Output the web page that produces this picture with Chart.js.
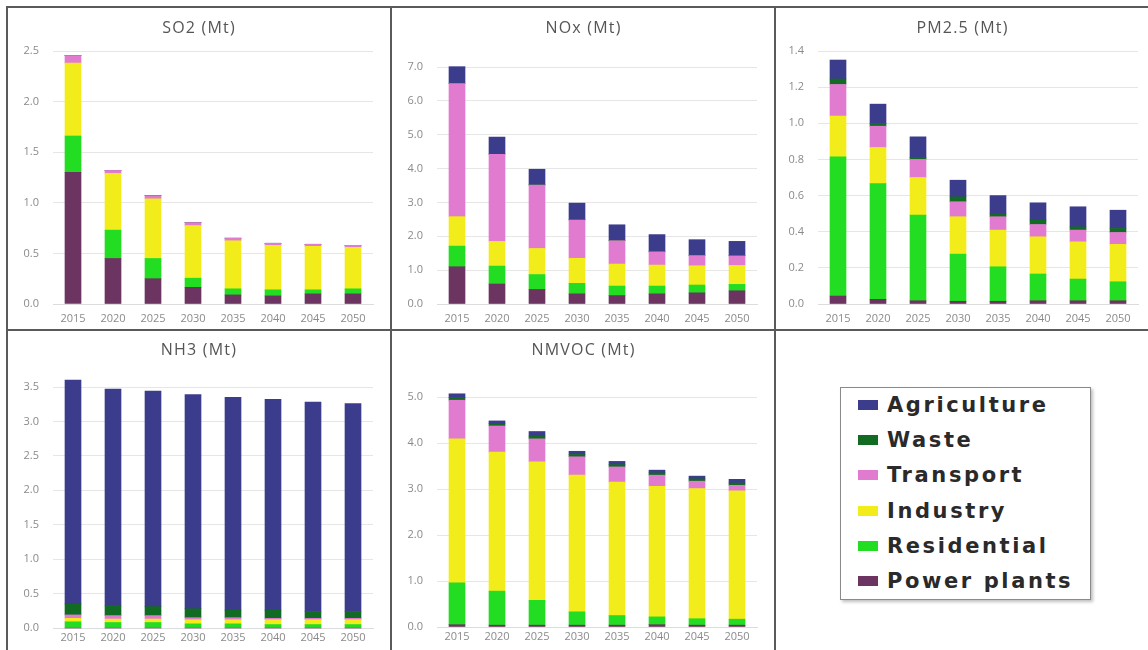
<!DOCTYPE html>
<html>
<head>
<meta charset="utf-8">
<script src="https://cdn.jsdelivr.net/npm/chart.js@4.4.1/dist/chart.umd.min.js"></script>
<style>
  html, body { margin: 0; padding: 0; background: #fff; }
  body { width: 1148px; height: 650px; position: relative; overflow: hidden; font-family: "Open Sans", sans-serif; }
  canvas { position: absolute; }
  .line { position: absolute; background: #5a5a5a; }
  .title { position: absolute; color: #555; font-size: 16px; letter-spacing: 1.2px; text-align: center; }
  #legend { position: absolute; left: 840px; top: 387px; width: 249px; height: 211px; border: 1px solid #8a8a8a;
            box-shadow: 2px 2px 3px rgba(0,0,0,0.25); background: #fff; }
  .item { position: absolute; left: 17px; height: 30px; display: flex; align-items: center; }
  .sw { width: 20px; height: 10px; margin-right: 9px; }
  .lab { font-family: "DejaVu Sans", sans-serif; font-weight: bold; font-size: 21px; color: #2a2a2a; letter-spacing: 2.6px; }
</style>
</head>
<body>
<div class="line" style="left:6px;top:6px;width:1142px;height:2px"></div>
<div class="line" style="left:6px;top:6px;width:2px;height:644px"></div>
<div class="line" style="left:390px;top:6px;width:2px;height:644px"></div>
<div class="line" style="left:774px;top:6px;width:2px;height:644px"></div>
<div class="line" style="left:6px;top:329px;width:1142px;height:2px"></div>

<canvas id="so2" width="382" height="321" style="left:8px;top:8px"></canvas>
<canvas id="nox" width="381" height="321" style="left:393px;top:8px"></canvas>
<canvas id="pm25" width="371" height="321" style="left:777px;top:8px"></canvas>
<canvas id="nh3" width="382" height="318" style="left:8px;top:332px"></canvas>
<canvas id="nmvoc" width="381" height="318" style="left:393px;top:332px"></canvas>

<div class="title" style="left:8px;top:16px;width:382px">SO2 (Mt)</div>
<div class="title" style="left:393px;top:16px;width:381px">NOx (Mt)</div>
<div class="title" style="left:777px;top:16px;width:371px">PM2.5 (Mt)</div>
<div class="title" style="left:8px;top:338px;width:382px">NH3 (Mt)</div>
<div class="title" style="left:393px;top:338px;width:381px">NMVOC (Mt)</div>

<div id="legend"></div>

<script>
const years = ['2015', '2020', '2025', '2030', '2035', '2040', '2045', '2050'];
const sectors = ['Power plants', 'Residential', 'Industry', 'Transport', 'Waste', 'Agriculture'];
const sectorColors = ['#6b3461', '#22dd22', '#f2ec1a', '#e07bd0', '#126b22', '#3b3c8c'];

// SO2
const so2Power     = [1.30, 0.45, 0.25, 0.165, 0.09, 0.08, 0.10, 0.10];
const so2Resid     = [0.36, 0.28, 0.20, 0.09, 0.06, 0.06, 0.04, 0.05];
const so2Industry  = [0.72, 0.56, 0.59, 0.52, 0.475, 0.44, 0.43, 0.41];
const so2Transport = [0.075, 0.03, 0.03, 0.03, 0.025, 0.02, 0.02, 0.02];
const so2Waste     = [0, 0, 0, 0, 0, 0, 0, 0];
const so2Agri      = [0, 0, 0, 0, 0, 0, 0, 0];

// NOx
const noxPower     = [1.10, 0.59, 0.43, 0.30, 0.25, 0.30, 0.33, 0.39];
const noxResid     = [0.61, 0.53, 0.44, 0.31, 0.28, 0.23, 0.23, 0.19];
const noxIndustry  = [0.87, 0.73, 0.77, 0.74, 0.65, 0.62, 0.57, 0.56];
const noxTransport = [3.93, 2.57, 1.87, 1.13, 0.69, 0.39, 0.30, 0.28];
const noxWaste     = [0.01, 0.01, 0.01, 0.01, 0.01, 0.01, 0.01, 0.01];
const noxAgri      = [0.49, 0.50, 0.46, 0.49, 0.46, 0.50, 0.46, 0.42];

// PM2.5
const pmPower      = [0.044, 0.026, 0.018, 0.015, 0.015, 0.018, 0.018, 0.018];
const pmResid      = [0.77, 0.64, 0.474, 0.261, 0.191, 0.148, 0.12, 0.105];
const pmIndustry   = [0.226, 0.20, 0.208, 0.207, 0.203, 0.206, 0.206, 0.207];
const pmTransport  = [0.175, 0.118, 0.10, 0.083, 0.074, 0.068, 0.065, 0.066];
const pmWaste      = [0.03, 0.015, 0.01, 0.027, 0.017, 0.024, 0.018, 0.022];
const pmAgri       = [0.105, 0.107, 0.115, 0.092, 0.10, 0.096, 0.111, 0.101];

// NH3
const nh3Power     = [0, 0, 0, 0, 0, 0, 0, 0];
const nh3Resid     = [0.09, 0.08, 0.08, 0.06, 0.06, 0.05, 0.05, 0.05];
const nh3Industry  = [0.05, 0.05, 0.05, 0.06, 0.06, 0.07, 0.07, 0.07];
const nh3Transport = [0.05, 0.05, 0.05, 0.03, 0.03, 0.02, 0.02, 0.02];
const nh3Waste     = [0.16, 0.15, 0.13, 0.13, 0.11, 0.12, 0.10, 0.10];
const nh3Agri      = [3.25, 3.14, 3.13, 3.11, 3.09, 3.06, 3.04, 3.02];

// NMVOC
const vocPower     = [0.05, 0.04, 0.04, 0.04, 0.04, 0.05, 0.04, 0.04];
const vocResid     = [0.91, 0.74, 0.54, 0.29, 0.21, 0.17, 0.14, 0.13];
const vocIndustry  = [3.13, 3.02, 3.01, 2.97, 2.90, 2.84, 2.83, 2.79];
const vocTransport = [0.84, 0.57, 0.50, 0.40, 0.33, 0.24, 0.16, 0.12];
const vocWaste     = [0.06, 0.05, 0.06, 0.05, 0.05, 0.05, 0.05, 0.05];
const vocAgri      = [0.08, 0.06, 0.10, 0.07, 0.07, 0.06, 0.06, 0.08];

function makeChart(id, series, box, area, yMax, yStep, xPad) {
    const ctx = document.getElementById(id).getContext('2d');
    return new Chart(ctx, {
        type: 'bar',
        data: {
            labels: years,
            datasets: series.map((d, i) => ({
                label: sectors[i],
                data: d,
                backgroundColor: sectorColors[i],
                borderWidth: 0,
                barThickness: 16,
                clip: false
            }))
        },
        options: {
            responsive: false,
            animation: false,
            devicePixelRatio: 1,
            layout: {
                padding: {
                    left: 0,
                    top: area.t - box.y,
                    right: box.x + box.w - area.r,
                    bottom: 0
                }
            },
            plugins: {
                legend: { display: false },
                tooltip: { enabled: false }
            },
            scales: {
                x: {
                    stacked: true,
                    grid: { display: false, drawTicks: false },
                    border: { display: true, color: '#dcdcdc' },
                    ticks: { color: '#8a8a8a', font: { family: 'Open Sans', size: 11 }, padding: xPad, maxRotation: 0 },
                    afterFit: s => { s.height = box.y + box.h - area.b; }
                },
                y: {
                    stacked: true,
                    min: 0,
                    max: yMax,
                    grid: { color: '#e6e6e6', drawTicks: false },
                    border: { display: false },
                    ticks: {
                        stepSize: yStep,
                        color: '#8a8a8a',
                        font: { family: 'Open Sans', size: 11 },
                        padding: 14,
                        callback: v => Number(v).toFixed(1)
                    },
                    afterFit: s => { s.width = area.l - box.x; }
                }
            }
        }
    });
}

makeChart('so2', [so2Power, so2Resid, so2Industry, so2Transport, so2Waste, so2Agri],
    { x: 8, y: 8, w: 382, h: 321 }, { l: 53, t: 51, r: 373, b: 304 }, 2.5, 0.5, 8);
makeChart('nox', [noxPower, noxResid, noxIndustry, noxTransport, noxWaste, noxAgri],
    { x: 393, y: 8, w: 381, h: 321 }, { l: 437, t: 67, r: 757, b: 304 }, 7, 1, 8);
makeChart('pm25', [pmPower, pmResid, pmIndustry, pmTransport, pmWaste, pmAgri],
    { x: 777, y: 8, w: 371, h: 321 }, { l: 818, t: 51, r: 1138, b: 304 }, 1.4, 0.2, 8);
makeChart('nh3', [nh3Power, nh3Resid, nh3Industry, nh3Transport, nh3Waste, nh3Agri],
    { x: 8, y: 332, w: 382, h: 318 }, { l: 53, t: 387, r: 373, b: 628 }, 3.5, 0.5, 3);
makeChart('nmvoc', [vocPower, vocResid, vocIndustry, vocTransport, vocWaste, vocAgri],
    { x: 393, y: 332, w: 381, h: 318 }, { l: 437, t: 397, r: 757, b: 627 }, 5, 1, 3);

// legend, top entry first
const legendOrder = [5, 4, 3, 2, 1, 0];
const legend = document.getElementById('legend');
legendOrder.forEach((si, row) => {
    const item = document.createElement('div');
    item.className = 'item';
    item.style.top = (2 + row * 35.2) + 'px';
    item.innerHTML = '<div class="sw" style="background:' + sectorColors[si] + '"></div><span class="lab">' + sectors[si] + '</span>';
    legend.appendChild(item);
});
</script>
</body>
</html>
